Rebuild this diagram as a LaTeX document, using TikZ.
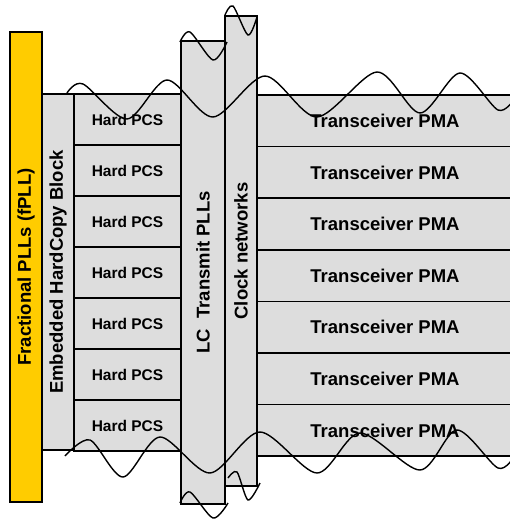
\documentclass[tikz,border=0pt]{standalone}
\usepackage{fontspec}
\setmainfont{Liberation Sans}
\definecolor{blockgray}{HTML}{DDDDDD}
\definecolor{pllyellow}{HTML}{FFCC00}
\tikzset{
  block/.style={draw=black, line width=1.6pt, fill=blockgray, inner sep=0pt,
    font=\bfseries\fontsize{18.5}{20}\selectfont},
  vblock/.style={block, rotate=90},
  pcsbox/.style={block, minimum width=107pt, minimum height=51pt,
    font=\bfseries\fontsize{15.5}{17}\selectfont},
  pmabox/.style={block, minimum width=256pt, minimum height=51.6pt},
  wave/.style={draw=black, line width=1.4pt}
}
\begin{document}
\begin{tikzpicture}[x=1pt, y=-1pt]
    \useasboundingbox (0,0) rectangle (510,520);
    \clip (0,0) rectangle (510,520);

    % Draw vertical blocks
    \node[vblock, fill=pllyellow, minimum width=470pt, minimum height=32pt] (fpll) at (26,267) {Fractional PLLs (fPLL)};
    \node[vblock, minimum width=356pt, minimum height=32pt] (hcopy) at (58,272) {Embedded HardCopy Block};

    % Draw PCS and PMA rows
    \foreach \i in {1,...,7} {
        \node[pcsbox] (pcs\i) at (127.5,{68.5+51*\i}) {Hard PCS};
        \node[pmabox] (pma\i) at (385,{69.2+51.6*\i}) {Transceiver PMA};
    }

    % Draw PLL and clock columns
    \node[vblock, minimum width=463pt, minimum height=44pt] (lcpll) at (203,272.5) {LC\ \ Transmit PLLs};
    \node[vblock, minimum width=470pt, minimum height=32pt] (clknet) at (241,251) {Clock networks};

    % Draw break lines
    \draw[wave] plot[smooth] coordinates {(67,93) (83,84) (127,119) (167,80) (213,117) (265,76) (317,117) (377,72) (420,113) (460,73) (498,110) (515,98)};
    \draw[wave] plot[smooth] coordinates {(65,456) (90,440) (123,477) (160,437) (210,473) (260,432) (317,473) (360,433) (420,470) (457,430) (498,468) (515,455)};
    \draw[wave] plot[smooth] coordinates {(180,42) (190,32) (213,60) (227,42)};
    \draw[wave] plot[smooth] coordinates {(225,15) (233,6) (248,35) (257,17)};
    \draw[wave] plot[smooth] coordinates {(180,503) (190,492) (213,518) (228,503)};
    \draw[wave] plot[smooth] coordinates {(228,478) (237,472) (248,500) (260,483)};
\end{tikzpicture}
\end{document}
